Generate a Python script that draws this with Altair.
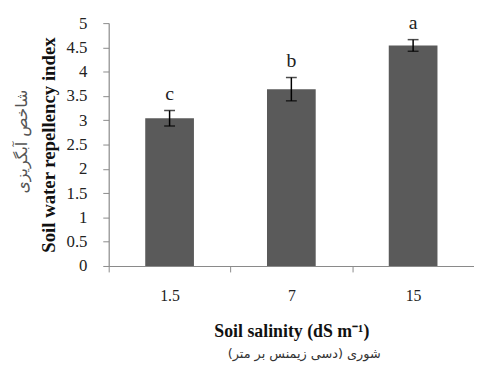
import altair as alt
import pandas as pd

categories = ["1.5", "7", "15"]
means = [3.04, 3.64, 4.54]
errors = [0.16, 0.24, 0.12]
letters = ["c", "b", "a"]
y_ticks = [0, 0.5, 1, 1.5, 2, 2.5, 3, 3.5, 4, 4.5, 5]

df = pd.DataFrame({
    "salinity": categories,
    "mean": means,
    "lo": [m - e for m, e in zip(means, errors)],
    "hi": [m + e for m, e in zip(means, errors)],
    "letter": letters,
})

SERIF = "Liberation Serif"
W, H = 370, 246
step = W / len(categories)

xaxis = alt.Axis(
    title="Soil salinity (dS m\u207b\u00b9)",
    titleFont=SERIF, titleFontSize=18, titleFontWeight="bold", titleColor="#111",
    titlePadding=19,
    labelAngle=0, labelFont=SERIF, labelFontSize=16, labelColor="#222",
    labelPadding=16, tickOffset=-step / 2, labelOffset=step / 2,
    domainColor="#8a8a8a", tickColor="#8a8a8a", tickSize=6,
)
xscale = alt.Scale(paddingInner=0, paddingOuter=0)
yaxis = alt.Axis(
    title="Soil water repellency index",
    titleFont=SERIF, titleFontSize=19, titleFontWeight="bold", titleColor="#111",
    titlePadding=8,
    values=y_ticks, format="~g", labelOverlap=False,
    labelFont=SERIF, labelFontSize=17, labelColor="#222", labelPadding=16,
    domainColor="#8a8a8a", tickColor="#8a8a8a", tickSize=6, grid=False,
)
yscale = alt.Scale(domain=[0, 5], nice=False)

def X():
    return alt.X("salinity:N", sort=categories, scale=xscale, axis=xaxis)

def Y(field):
    return alt.Y(field, type="quantitative", scale=yscale, axis=yaxis)

base = alt.Chart(df)
bars = base.mark_bar(color="#5a5a5a", width={"band": 0.4}).encode(x=X(), y=Y("mean"))
rule = base.mark_rule(color="#000", strokeWidth=1.5).encode(x=X(), y=Y("lo"), y2="hi:Q")
cap_lo = base.mark_tick(color="#000", thickness=1.5, size=11, orient="horizontal").encode(x=X(), y=Y("lo"))
cap_hi = base.mark_tick(color="#000", thickness=1.5, size=11, orient="horizontal").encode(x=X(), y=Y("hi"))
labels = base.mark_text(font=SERIF, fontSize=20, color="#222", dy=-17, baseline="middle").encode(
    x=X(), y=Y("hi"), text="letter:N")

one = alt.Data(values=[{"k": 1}])
fa_y = alt.Chart(one).mark_text(font="DejaVu Sans", fontSize=16, color="#555", angle=270, baseline="middle", align="center").encode(
    x=alt.value(-88), y=alt.value(120), text=alt.value("شاخص آبگریزی"))
fa_x = alt.Chart(one).mark_text(font="DejaVu Sans", fontSize=13, color="#333", baseline="middle", align="center").encode(
    x=alt.value(198), y=alt.value(335), text=alt.value("شوری (دسی زیمنس بر متر)"))

chart = alt.layer(bars, rule, cap_lo, cap_hi, labels, fa_y, fa_x).properties(
    width=W, height=H,
    autosize=alt.AutoSizeParams(type="none"),
    padding={"left": 102, "top": 13, "right": 0, "bottom": 100},
).configure_view(stroke=None).configure_axis(domainWidth=1.2)

chart.save("out.html", embed_options={"renderer": "svg", "actions": False})
